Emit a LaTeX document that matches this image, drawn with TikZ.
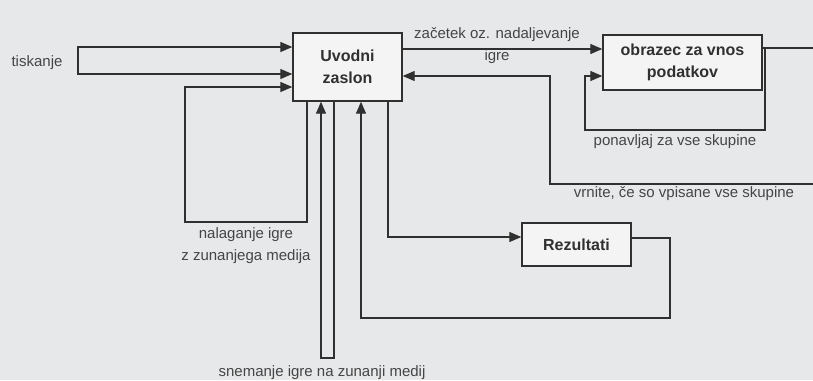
\documentclass[tikz,border=0pt]{standalone}
\usepackage{fontspec}
\setmainfont{Liberation Sans}
\usetikzlibrary{arrows.meta}
\definecolor{bg}{HTML}{E7E8EA}
\definecolor{ink}{HTML}{303030}
\definecolor{boxfill}{HTML}{F4F4F4}
\begin{document}
\begin{tikzpicture}[x=1pt,y=-1pt,
  box/.style={draw=ink, line width=1.4pt, fill=boxfill, inner sep=0pt,
    font=\fontsize{16}{22}\selectfont\bfseries, text=ink, align=center},
  lbl/.style={inner sep=0pt, font=\fontsize{15}{22}\selectfont, text=ink!90, align=center},
  conn/.style={draw=ink, line width=1.3pt},
  tip/.style={},
  arr/.style={conn, -{Triangle[length=12pt,width=10pt]}},
  darr/.style={conn, {Triangle[length=12pt,width=10pt]}-{Triangle[length=12pt,width=10pt]}}]
\useasboundingbox (0,0) rectangle (813,380);
\fill[bg] (0,0) rectangle (813,380);
\clip (0,0) rectangle (813,380);
% boxes
\node[box, minimum width=109pt, minimum height=68pt] (uv) at (347.5,67) {Uvodni\\zaslon};
\node[box, minimum width=159pt, minimum height=55pt] (ob) at (682.5,62.5) {obrazec za vnos\\podatkov};
\node[box, minimum width=109pt, minimum height=43pt] (rez) at (576.5,244.5) {Rezultati};
% labels
\node[lbl] (tisk) at (37,63) {tiskanje};
\node[lbl] (lz) at (497,46) {začetek oz. nadaljevanje\\igre};
\node[lbl] (lp) at (675,142) {ponavljaj za vse skupine};
\node[lbl] (lv) at (684,194) {vrnite, če so vpisane vse skupine};
\node[lbl] (ln) at (246,246) {nalaganje igre\\z zunanjega medija};
\node[lbl] (ls) at (322,373) {snemanje igre na zunanji medij};
% tiskanje loop
\coordinate (t1) at (78,47);
\coordinate (t2) at (78,74);
\draw[darr] (uv.west |- t2) -- (t2) -- (t1) -- (uv.west |- t1);
% nalaganje loop
\coordinate (n1) at (307,222);
\coordinate (n2) at (185,222);
\coordinate (n3) at (185,87);
\draw[arr] (uv.south -| n1) -- (n1) -- (n2) -- (n3) -- (uv.west |- n3);
% snemanje loop
\coordinate (s1) at (334,358);
\coordinate (s2) at (321,358);
\draw[arr] (uv.south -| s1) -- (s1) -- (s2) -- (uv.south -| s2);
% rezultati
\coordinate (r1) at (388,237);
\draw[arr] (uv.south -| r1) -- (r1) -- (rez.west |- r1);
\coordinate (r2) at (670,238);
\coordinate (r3) at (670,318);
\coordinate (r4) at (361,318);
\draw[arr] (rez.east |- r2) -- (r2) -- (r3) -- (r4) -- (uv.south -| r4);
% zacetek
\coordinate (z1) at (0,49);
\draw[arr] (uv.east |- z1) -- (ob.west |- z1);
% return from obrazec
\coordinate (o1) at (830,48);
\coordinate (o2) at (830,184);
\coordinate (o3) at (550,184);
\coordinate (o4) at (550,76);
\draw[arr] (ob.east |- o1) -- (o1) -- (o2) -- (o3) -- (o4) -- (uv.east |- o4);
% repeat loop
\coordinate (p1) at (765,48);
\coordinate (p2) at (765,130);
\coordinate (p3) at (585,130);
\coordinate (p4) at (585,76);
\draw[arr] (p1) -- (p2) -- (p3) -- (p4) -- (ob.west |- p4);
\end{tikzpicture}
\end{document}
